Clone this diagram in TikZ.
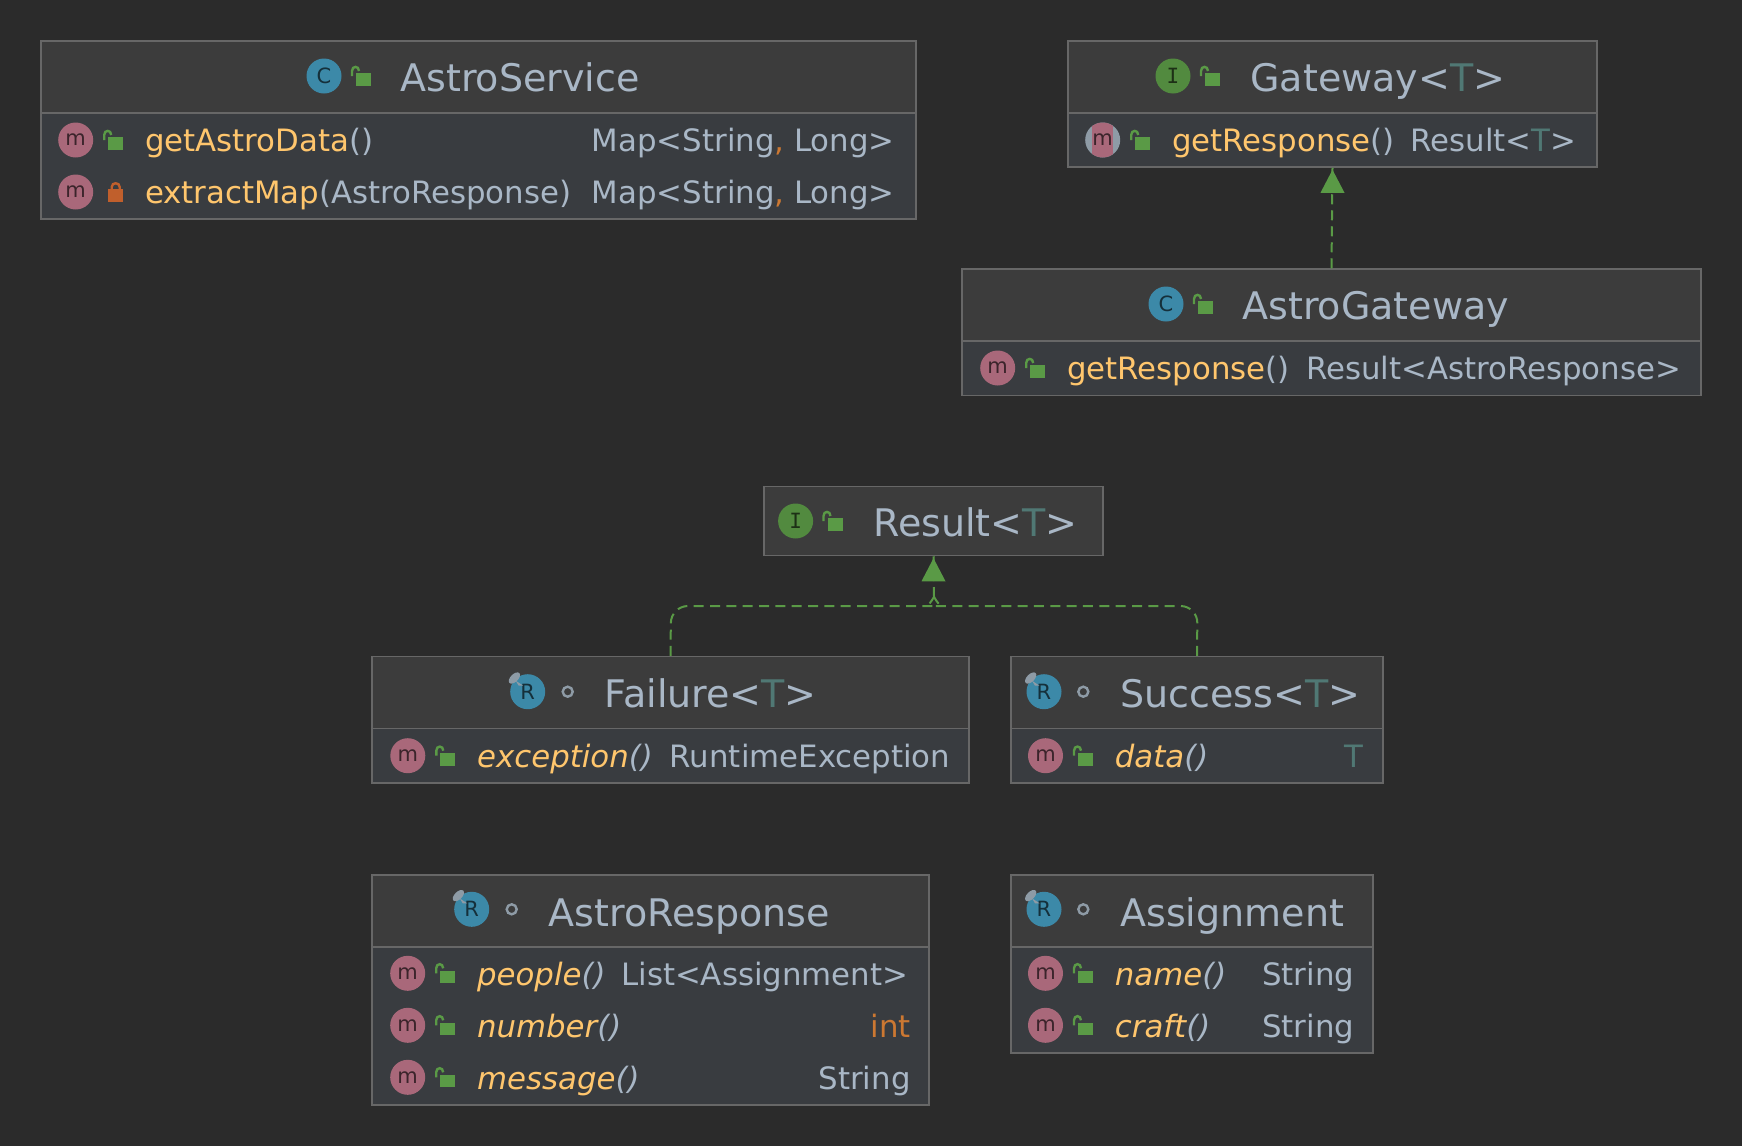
\documentclass[tikz,border=0pt]{standalone}
\usepackage{fontspec}
\setmainfont{DejaVu Sans}
\newfontfamily\badgemono{DejaVu Sans Mono}
\usetikzlibrary{fit}

\definecolor{canvas}{HTML}{2B2B2B}
\definecolor{headfill}{HTML}{3C3C3C}
\definecolor{bodyfill}{HTML}{393C40}
\definecolor{edgegray}{HTML}{676767}
\definecolor{textblue}{HTML}{A9B7C6}
\definecolor{methodyellow}{HTML}{FFC66D}
\definecolor{typegreen}{HTML}{507874}
\definecolor{keyorange}{HTML}{CC7832}
\definecolor{methodpink}{HTML}{A9687A}
\definecolor{classblue}{HTML}{3C89A8}
\definecolor{ifacegreen}{HTML}{528A3F}
\definecolor{lockgreen}{HTML}{5A9A46}
\definecolor{lockred}{HTML}{C05F2C}
\definecolor{pingray}{HTML}{8E9BA6}

\newcommand{\pn}[1]{\textcolor{textblue}{#1}}
\newcommand{\tp}{\textcolor{typegreen}{T}}
\newcommand{\cm}{\textcolor{keyorange}{,}}

\tikzset{
    classbox/.style={draw=edgegray, line width=0.75pt, fill=bodyfill, inner sep=0pt},
    headbox/.style={draw=edgegray, line width=0.75pt, fill=headfill, inner sep=0pt},
    titletext/.style={anchor=base west, inner sep=0pt, text=textblue, font=\fontsize{19}{24}\selectfont},
    methodtext/.style={anchor=base west, inner sep=0pt, text=methodyellow, font=\fontsize{15.4}{18}\selectfont},
    typetext/.style={anchor=base east, inner sep=0pt, text=textblue, font=\fontsize{15.4}{18}\selectfont},
    badge/.style={circle, inner sep=0pt, minimum size=17.5pt, font=\fontsize{10.5}{12}\selectfont},
    mbadge/.style={badge, fill=methodpink, text=black!65!methodpink},
    cbadge/.style={badge, fill=classblue, text=black!65!classblue},
    ibadge/.style={badge, fill=ifacegreen, text=black!65!ifacegreen, font=\fontsize{10.5}{12}\badgemono},
    pics/openlock/.style={code={
        \fill[lockgreen] (-7.5,-2.7) rectangle (7.5,9.8);
        \draw[lockgreen, line width=1.2pt] (-11.5,0) -- (-11.5,-5) .. controls (-11.5,-10.5) and (-4.5,-10.5) .. (-4.5,-5);
    }},
    pics/shutlock/.style={code={
        \fill[lockred] (-7.5,-2.7) rectangle (7.5,9.8);
        \draw[lockred, line width=1.2pt] (-4,-2.7) -- (-4,-5) .. controls (-4,-10) and (4,-10) .. (4,-5) -- (4,-2.7);
    }},
    pics/packagedot/.style={code={
        \draw[pingray, line width=1.2pt] (0,0) circle (5);
    }},
    pics/recordpin/.style={code={
        \fill[pingray, shift={(-13.3,-13.7)}, rotate=45] (0,0) ellipse (7 and 3.8);
        \fill[pingray] (-12,-11) -- (-4.5,-6) -- (-9,-6) -- cycle;
    }},
    implline/.style={draw=lockgreen, line width=1pt, dash pattern=on 5pt off 3pt},
    mergeline/.style={implline, dash pattern=on 5pt off 3.17pt},
    impltip/.style={fill=lockgreen, draw=none},
}

\newcommand{\methodrow}[7]{%
    \node[mbadge] (#1 badge) at (#2,#3) {m};
    \pic at (#2+40,#3) {#4};
    \node[methodtext] (#1) at (#2+69,#3+11.8) {#5};
    \node[typetext] (#1 type) at (#6,#3+11.8) {#7};
}

\begin{document}
\begin{tikzpicture}[x=0.5pt, y=-0.5pt]
    \useasboundingbox[fill=canvas] (0,0) rectangle (1742,1146);

    % AstroService
    \node[classbox, fit={(41,41) (916,219)}] (service) {};
    \node[headbox, fit={(41,41) (916,113)}] (service head) {};
    \node[cbadge] (service icon) at (324,76) {C};
    \pic at (363.5,76) {openlock};
    \node[titletext] (service title) at (400,91.7) {AstroService};
    \methodrow{getdata}{75.7}{140}{openlock}{getAstroData\pn{()}}{895}{Map<String\cm{} Long>}
    \methodrow{extract}{75.7}{192}{shutlock}{extractMap\pn{(AstroResponse)}}{895}{Map<String\cm{} Long>}

    % Gateway
    \node[classbox, fit={(1068,41) (1597,167)}] (gateway) {};
    \node[headbox, fit={(1068,41) (1597,113)}] (gateway head) {};
    \node[ibadge] (gateway icon) at (1173,76) {I};
    \pic at (1212.5,76) {openlock};
    \node[titletext] (gateway title) at (1250,91.7) {Gateway<\tp>};
    \node[badge, fill=pingray] (abstract badge) at (1102.7,140) {};
    \begin{scope}
        \clip (1102.7,140) circle (17.5);
        \fill[methodpink] (1092.3,120) rectangle (1113,160);
    \end{scope}
    \node[badge, text=black!65!methodpink] (abstract m) at (1102.7,140) {m};
    \pic at (1142.7,140) {openlock};
    \node[methodtext] (getresponse) at (1171.7,151.8) {getResponse\pn{()}};
    \node[typetext] (getresponse type) at (1576.5,151.8) {Result<\tp>};

    % AstroGateway
    \node[classbox, fit={(962,269) (1701,395.5)}] (astrogateway) {};
    \node[headbox, fit={(962,269) (1701,341)}] (astrogateway head) {};
    \node[cbadge] (astrogateway icon) at (1166,304) {C};
    \pic at (1205.5,304) {openlock};
    \node[titletext] (astrogateway title) at (1242,319.7) {AstroGateway};
    \methodrow{astroresponse}{997.7}{368}{openlock}{getResponse\pn{()}}{1681.5}{Result<AstroResponse>}

    % Result
    \node[headbox, fit={(764,486.6) (1103,555.5)}] (result) {};
    \node[ibadge] (result icon) at (795.6,521) {I};
    \pic at (835,521) {openlock};
    \node[titletext] (result title) at (873,536.5) {Result<\tp>};

    % Failure
    \node[classbox, fit={(372,656.7) (969,783)}] (failure) {};
    \node[headbox, fit={(372,656.7) (969,728.7)}] (failure head) {};
    \node[cbadge] (failure icon) at (527.7,691.7) {R};
    \pic at (527.7,691.7) {recordpin};
    \pic at (567.7,691.7) {packagedot};
    \node[titletext] (failure title) at (604.5,707.4) {Failure<\tp>};
    \methodrow{exception}{407.8}{755.7}{openlock}{\textit{exception\pn{()}}}{950.5}{RuntimeException}

    % Success
    \node[classbox, fit={(1011,656.7) (1383,783)}] (success) {};
    \node[headbox, fit={(1011,656.7) (1383,728.7)}] (success head) {};
    \node[cbadge] (success icon) at (1044,691.7) {R};
    \pic at (1044,691.7) {recordpin};
    \pic at (1083.3,691.7) {packagedot};
    \node[titletext] (success title) at (1120,707.4) {Success<\tp>};
    \methodrow{data}{1045.5}{755.7}{openlock}{\textit{data\pn{()}}}{1364}{\tp}

    % AstroResponse
    \node[classbox, fit={(372,875) (929,1105)}] (response) {};
    \node[headbox, fit={(372,875) (929,947)}] (response head) {};
    \node[cbadge] (response icon) at (471.7,909.3) {R};
    \pic at (471.7,909.3) {recordpin};
    \pic at (511.7,909.3) {packagedot};
    \node[titletext] (response title) at (548.3,926.7) {AstroResponse};
    \methodrow{people}{407.7}{973.3}{openlock}{\textit{people\pn{()}}}{908.5}{List<Assignment>}
    \methodrow{number}{407.7}{1025.3}{openlock}{\textit{number\pn{()}}}{911}{\textcolor{keyorange}{int}}
    \methodrow{message}{407.7}{1077.3}{openlock}{\textit{message\pn{()}}}{911}{String}

    % Assignment
    \node[classbox, fit={(1011,875) (1373,1053)}] (assignment) {};
    \node[headbox, fit={(1011,875) (1373,947)}] (assignment head) {};
    \node[cbadge] (assignment icon) at (1044,909.3) {R};
    \pic at (1044,909.3) {recordpin};
    \pic at (1083.3,909.3) {packagedot};
    \node[titletext] (assignment title) at (1120,926.7) {Assignment};
    \methodrow{name}{1045.5}{973.3}{openlock}{\textit{name\pn{()}}}{1354.5}{String}
    \methodrow{craft}{1045.5}{1025.3}{openlock}{\textit{craft\pn{()}}}{1354.5}{String}

    % Implements edges
    \draw[implline] (astrogateway.north) -- (gateway.south);
    \fill[impltip] (gateway.south) ++(0,2) -- ++(12,23) -- ++(-24,0) -- cycle;

    \coordinate (merge) at (934,597);
    \draw[mergeline, rounded corners=17pt/2] (failure.north) -- (671,606) -- (916,606) [sharp corners] .. controls (925,606) and (931,603) .. (merge);
    \draw[mergeline, rounded corners=17pt/2] (success.north) -- (1197.5,606) -- (952,606) [sharp corners] .. controls (943,606) and (937,603) .. (merge);
    \draw[implline] (merge) -- (result.south);
    \fill[impltip] (result.south) ++(0,2) -- ++(12,23) -- ++(-24,0) -- cycle;
\end{tikzpicture}
\end{document}
